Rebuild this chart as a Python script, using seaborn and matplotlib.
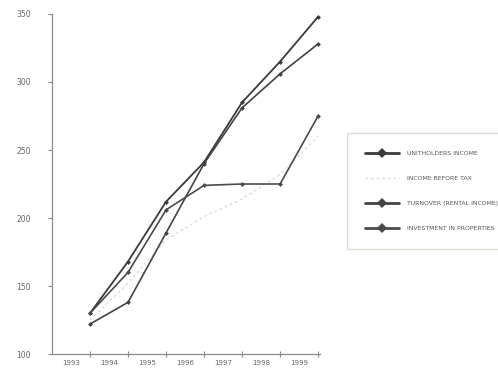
import matplotlib
matplotlib.use("Agg")
import matplotlib.pyplot as plt
import seaborn as sns
import pandas as pd
import numpy as np

# ---- data ----
years = ["1993", "1994", "1995", "1996", "1997", "1998", "1999"]
unitholders_income = [130, 168, 212, 241, 285, 315, 348]
income_before_tax = [125, 152, 184, 201, 214, 232, 260]
turnover_rental_income = [122, 138, 189, 240, 281, 306, 328]
investment_in_properties = [130, 160, 206, 224, 225, 225, 275]

series_names = ["UNITHOLDERS INCOME", "INCOME BEFORE TAX",
                "TURNOVER (RENTAL INCOME)", "INVESTMENT IN PROPERTIES"]
series_values = [unitholders_income, income_before_tax,
                 turnover_rental_income, investment_in_properties]
y_ticks = [100, 150, 200, 250, 300, 350]

sns.set_style("white")
plt.rcParams['font.family'] = ['DejaVu Sans']

fig = plt.figure(figsize=(4.98, 3.71), dpi=100)
ax = fig.add_axes([52/498, 1-354/371, (320-52)/498, (354-14)/371])

pos = list(range(1, len(years) + 1))
styles = {
    "UNITHOLDERS INCOME": dict(color="#3a3a3a", lw=1.3, ls="-", marker="D", ms=2.5),
    "INCOME BEFORE TAX": dict(color="#dcdcdc", lw=1.0, ls=(0, (2, 2)), marker=None, ms=0),
    "TURNOVER (RENTAL INCOME)": dict(color="#444444", lw=1.2, ls="-", marker="D", ms=2.5),
    "INVESTMENT IN PROPERTIES": dict(color="#4a4a4a", lw=1.2, ls="-", marker="D", ms=2.5),
}
for name, vals in zip(series_names, series_values):
    st = styles[name]
    df = pd.DataFrame({"x": pos, "v": vals})
    sns.lineplot(data=df, x="x", y="v", ax=ax, label=name, color=st["color"],
                 linewidth=st["lw"], linestyle=st["ls"], marker=st["marker"],
                 markersize=st["ms"], markeredgewidth=0, legend=False)

ax.set_xlim(0, 7.05)
ax.set_ylim(100, 350)
ax.set_xlabel("")
ax.set_ylabel("")
for s in ["top", "right"]:
    ax.spines[s].set_visible(False)
for s in ["left", "bottom"]:
    ax.spines[s].set_color("#8a8a8a")
    ax.spines[s].set_linewidth(0.9)

ax.set_yticks(y_ticks)
ax.set_yticklabels([str(t) for t in y_ticks])
ax.tick_params(axis="y", direction="out", length=3, width=0.8, color="#8a8a8a",
               labelsize=5.5, labelcolor="#666666", pad=12, left=True)

ax.set_xticks(pos)
ax.set_xticklabels([])
ax.tick_params(axis="x", which="major", direction="inout", length=4, width=0.8,
               color="#8a8a8a", bottom=True)
ax.set_xticks([p - 0.5 for p in pos], minor=True)
ax.set_xticklabels(years, minor=True)
ax.tick_params(axis="x", which="minor", length=0, labelsize=5, labelcolor="#666666", pad=4)

handles = ax.get_lines()
leg = fig.legend(handles=handles[:4], labels=series_names, loc="upper left",
                 bbox_to_anchor=(347/498, 1-133/371), fontsize=4.4,
                 frameon=True, fancybox=False, edgecolor="#d8d2c8",
                 handlelength=5.6, handletextpad=1.3, labelspacing=3.25,
                 borderpad=2.9, borderaxespad=0)
for h in leg.legend_handles:
    if h.get_color() != "#dcdcdc":
        h.set_linewidth(2.0)
        h.set_markersize(5.5)
for t in leg.get_texts():
    t.set_color("#555555")

fig.savefig("out.png", dpi=100, facecolor="white")
